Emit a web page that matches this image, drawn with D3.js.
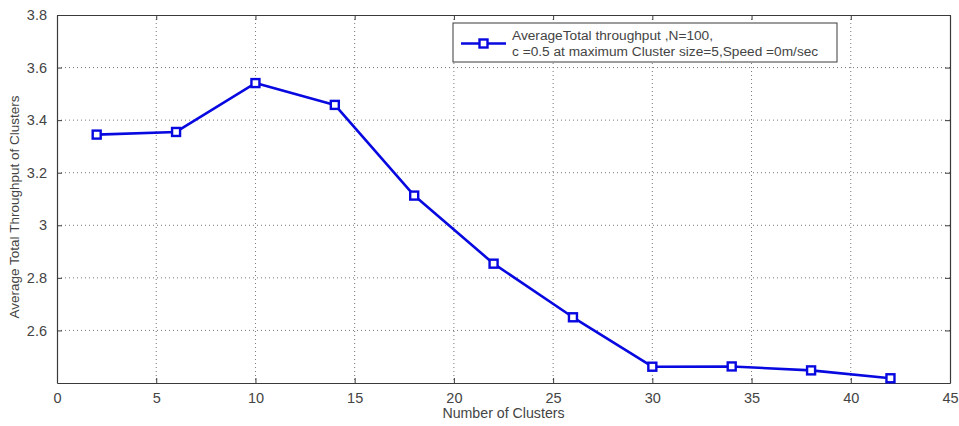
<!DOCTYPE html>
<html>
<head>
<meta charset="utf-8">
<script src="https://cdn.jsdelivr.net/npm/d3@7"></script>
<style>
  html, body { margin: 0; padding: 0; background: #fff; }
  svg { display: block; font-family: "Liberation Sans", Arial, sans-serif; }
</style>
</head>
<body>
<svg id="chart" width="959" height="426"></svg>
<script>
// Average total throughput versus number of clusters
const clusters = [2, 6, 10, 14, 18, 22, 26, 30, 34, 38, 42];
const throughput = [3.345, 3.355, 3.541, 3.458, 3.113, 2.854, 2.650, 2.462, 2.463, 2.448, 2.418];
const xTicks = [0, 5, 10, 15, 20, 25, 30, 35, 40, 45];
const yTicks = [2.6, 2.8, 3.0, 3.2, 3.4, 3.6, 3.8];
const legendLines = ["AverageTotal throughput ,N=100,", "c =0.5 at maximum Cluster size=5,Speed =0m/sec"];

const W = 959, H = 426;
const m = { left: 57, right: 9, top: 15, bottom: 43 };
const svg = d3.select("#chart");

const x = d3.scaleLinear().domain([0, 45]).range([m.left, W - m.right]);
const y = d3.scaleLinear().domain([2.4, 3.8]).range([H - m.bottom, m.top]);

const textColor = "#444";
const axisColor = "#3a3a3a";

// dotted grid
const grid = svg.append("g");
grid.selectAll("line.gx").data(xTicks.slice(1, -1)).join("line")
  .attr("x1", d => x(d)).attr("x2", d => x(d))
  .attr("y1", m.top).attr("y2", H - m.bottom)
  .attr("stroke", "#777").attr("stroke-width", 1).attr("stroke-dasharray", "1,3");
grid.selectAll("line.gy").data(yTicks.slice(0, -1)).join("line")
  .attr("x1", m.left).attr("x2", W - m.right)
  .attr("y1", d => y(d)).attr("y2", d => y(d))
  .attr("stroke", "#777").attr("stroke-width", 1).attr("stroke-dasharray", "1,3");

// axes with inward ticks
const fmt = d => (d === 3 ? "3" : d3.format(".1f")(d));
const xAxis = svg.append("g").attr("transform", `translate(0,${H - m.bottom})`)
  .call(d3.axisBottom(x).tickValues(xTicks).tickSizeInner(-5).tickSizeOuter(0).tickPadding(10));
const yAxis = svg.append("g").attr("transform", `translate(${m.left},0)`)
  .call(d3.axisLeft(y).tickValues(yTicks).tickFormat(fmt).tickSizeInner(-5).tickSizeOuter(0).tickPadding(10));
const xTop = svg.append("g").attr("transform", `translate(0,${m.top})`)
  .call(d3.axisTop(x).tickValues(xTicks).tickSizeInner(-5).tickSizeOuter(0).tickFormat(""));
const yRight = svg.append("g").attr("transform", `translate(${W - m.right},0)`)
  .call(d3.axisRight(y).tickValues(yTicks).tickSizeInner(-5).tickSizeOuter(0).tickFormat(""));

[xAxis, yAxis, xTop, yRight].forEach(g => {
  g.select(".domain").attr("stroke", axisColor).attr("stroke-width", 1.2);
  g.selectAll(".tick line").attr("stroke", axisColor);
  g.selectAll(".tick text").attr("fill", textColor).attr("font-size", 14.5)
    .attr("font-family", "Liberation Sans, Arial, sans-serif");
});

// axis titles
svg.append("text")
  .attr("x", (m.left + W - m.right) / 2).attr("y", 418)
  .attr("text-anchor", "middle").attr("fill", textColor).attr("font-size", 14.2)
  .text("Number of Clusters");
svg.append("text")
  .attr("transform", `translate(19,${(m.top + H - m.bottom) / 2 + 8}) rotate(-90)`)
  .attr("text-anchor", "middle").attr("fill", textColor).attr("font-size", 13.5)
  .text("Average Total Throughput of Clusters");

// series
const blue = "#0808e0";
const line = d3.line().x((d, i) => x(clusters[i])).y(d => y(d));
svg.append("path").datum(throughput)
  .attr("d", line).attr("fill", "none").attr("stroke", blue)
  .attr("stroke-width", 2.6).attr("stroke-linejoin", "round");
svg.append("g").selectAll("rect").data(throughput).join("rect")
  .attr("x", (d, i) => x(clusters[i]) - 4).attr("y", d => y(d) - 4)
  .attr("width", 8).attr("height", 8)
  .attr("fill", "#fff").attr("stroke", blue).attr("stroke-width", 2.4);

// legend
const lg = svg.append("g").attr("transform", "translate(453,23)");
lg.append("rect").attr("width", 384).attr("height", 39)
  .attr("fill", "#fff").attr("stroke", axisColor).attr("stroke-width", 1);
lg.append("line").attr("x1", 8).attr("x2", 53).attr("y1", 20.5).attr("y2", 20.5)
  .attr("stroke", blue).attr("stroke-width", 2.6);
lg.append("rect").attr("x", 26.5).attr("y", 16.5).attr("width", 8).attr("height", 8)
  .attr("fill", "#fff").attr("stroke", blue).attr("stroke-width", 2.4);
lg.selectAll("text").data(legendLines).join("text")
  .attr("x", 59).attr("y", (d, i) => 17 + i * 16)
  .attr("fill", textColor).attr("font-size", 13.7)
  .text(d => d);
</script>
</body>
</html>
